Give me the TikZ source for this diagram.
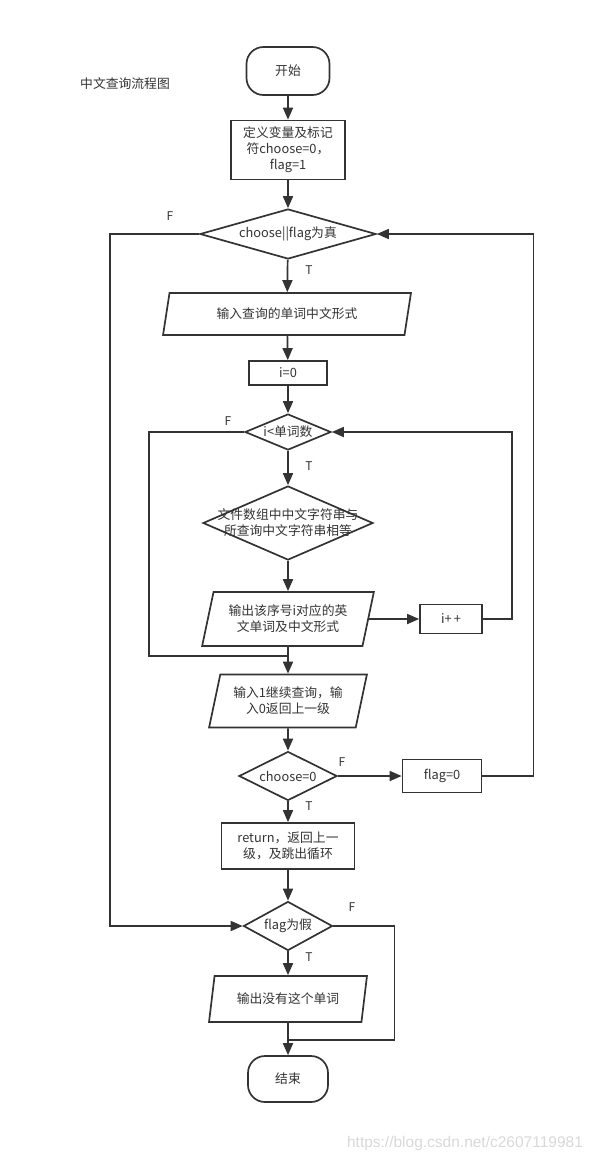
\documentclass[tikz,border=0pt]{standalone}
\usepackage{fontspec}
\setmainfont{Noto Sans CJK SC}
\newfontfamily\wmfont{Liberation Sans}
\usetikzlibrary{shapes.geometric,arrows.meta}
\definecolor{ln}{HTML}{333333}
\definecolor{wm}{HTML}{D8D8D8}
\begin{document}
\begin{tikzpicture}[x=1pt,y=-1pt,line width=1.7pt,
  every node/.style={inner sep=0pt,align=center,text=ln,font=\fontsize{12.8}{16}\selectfont},
  every label/.style={draw=none,align=center},
  term/.style={draw=ln,rectangle,rounded corners=17pt},
  proc/.style={draw=ln,rectangle},
  dec/.style={draw=ln,diamond},
  io/.style={draw=ln,trapezium,trapezium left angle=72,trapezium right angle=108,trapezium stretches=true},
  arr/.style={draw=ln,-{Triangle[length=12pt,width=10pt]}},
  con/.style={draw=ln},
  tf/.style={font=\fontsize{12}{14}\selectfont}
]
\useasboundingbox (0,0) rectangle (593,1163);

\node (title) at (125,84) {中文查询流程图};

\node[term,minimum width=83pt,minimum height=48pt] (start) at (288,71) {开始};
\node[proc,minimum width=114pt,minimum height=59pt] (init) at (288,150) {定义变量及标记\\符choose=0，\\flag=1};
\node[dec,minimum width=176pt,minimum height=50pt,label=center:{choose||flag为真}] (d1) at (288,234) {};
\node[io,minimum width=248pt,minimum height=42pt] (p1) at (287,314) {输入查询的单词中文形式};
\node[proc,minimum width=78pt,minimum height=24pt] (i0) at (288,373) {i=0};
\node[dec,minimum width=86pt,minimum height=36pt,label=center:{i<单词数}] (d2) at (288,432) {};
\node[dec,minimum width=170pt,minimum height=74pt,label={[align=center]center:文件数组中中文字符串与\\所查询中文字符串相等}] (d3) at (288,523) {};
\node[io,minimum width=172pt,minimum height=54pt] (p2) at (288,619) {输出该序号i对应的英\\文单词及中文形式};
\node[proc,minimum width=62pt,minimum height=29pt] (inc) at (451,619) {i+\,+};
\node[io,minimum width=158pt,minimum height=53pt] (p3) at (288,701) {输入1继续查询，输\\入0返回上一级};
\node[dec,minimum width=98pt,minimum height=49pt,label=center:{choose=0}] (d4) at (288,776) {};
\node[proc,minimum width=79pt,minimum height=33pt] (fl) at (442,776) {flag=0};
\node[proc,minimum width=133pt,minimum height=46pt] (ret) at (288,846) {return，返回上一\\级，及跳出循环};
\node[dec,minimum width=89pt,minimum height=49pt,label=center:{flag为假}] (d5) at (288,926) {};
\node[io,minimum width=158pt,minimum height=46pt] (p4) at (288,999) {输出没有这个单词};
\node[term,minimum width=80pt,minimum height=46pt] (stop) at (288,1079) {结束};

\coordinate (m1) at (288,656);
\coordinate (m2) at (288,1040);

\draw[arr] (start) -- (init);
\draw[arr] (init) -- (d1);
\draw[arr] (d1) -- (p1);
\draw[arr] (p1) -- (i0);
\draw[arr] (i0) -- (d2);
\draw[arr] (d2) -- (d3);
\draw[arr] (d3) -- (p2);
\draw[arr] (p2.east) -- (inc.west);
\draw[arr] (inc.east) -- ++(29,0) |- (d2.east);
\draw[arr] (p2) -- (p3);
\draw[con] (d2.west) -- ++(-95,0) |- (m1);
\draw[arr] (p3) -- (d4);
\draw[arr] (d4.east) -- (fl.west);
\draw[arr] (fl.east) -- ++(51,0) |- (d1.east);
\draw[arr] (d4) -- (ret);
\draw[arr] (ret) -- (d5);
\draw[arr] (d1.west) -- ++(-89,0) |- (d5.west);
\draw[arr] (d5) -- (p4);
\draw[con] (d5.east) -- ++(61,0) |- (m2);
\draw[arr] (p4) -- (stop);

\node[tf] (f1) at (170,216) {F};
\node[tf] (t1) at (309,270) {T};
\node[tf] (f2) at (228,421) {F};
\node[tf] (t2) at (309,466) {T};
\node[tf] (f3) at (342,762) {F};
\node[tf] (t3) at (309,806) {T};
\node[tf] (f4) at (352,907) {F};
\node[tf] (t4) at (309,957) {T};

\node[font=\wmfont\fontsize{15.5}{18}\selectfont,text=wm] (wmk) at (465,1143) {https://blog.csdn.net/c2607119981};
\end{tikzpicture}
\end{document}
